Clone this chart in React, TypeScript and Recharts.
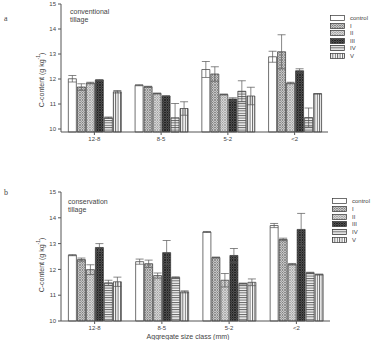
import React from 'react';
import { BarChart, Bar, XAxis, YAxis, ErrorBar } from 'recharts';

const categories = ['12-8', '8-5', '5-2', '<2'];
const treatments = ['control', 'I', 'II', 'III', 'IV', 'V'];
const yTicks = [10, 11, 12, 13, 14, 15];

// conventional tillage (panel a)
const convControl = [12.01, 11.75, 12.38, 12.89];
const convI = [11.68, 11.69, 12.2, 13.09];
const convII = [11.84, 11.42, 11.38, 11.84];
const convIII = [11.96, 11.32, 11.2, 12.33];
const convIV = [10.45, 10.45, 11.51, 10.46];
const convV = [11.49, 10.82, 11.32, 11.41];
const convControlErr = [0.13, 0.02, 0.32, 0.22];
const convIErr = [0.13, 0.02, 0.29, 0.68];
const convIIErr = [0.03, 0.02, 0.02, 0.03];
const convIIIErr = [0.02, 0.01, 0.05, 0.08];
const convIVErr = [0.03, 0.57, 0.42, 0.38];
const convVErr = [0.05, 0.27, 0.35, 0.01];

// conservation tillage (panel b)
const consControl = [12.55, 12.3, 13.45, 13.7];
const consI = [12.38, 12.22, 12.46, 13.16];
const consII = [11.99, 11.76, 11.58, 12.2];
const consIII = [12.85, 12.65, 12.54, 13.55];
const consIV = [11.48, 11.69, 11.45, 11.87];
const consV = [11.52, 11.13, 11.5, 11.8];
const consControlErr = [0.02, 0.1, 0.02, 0.08];
const consIErr = [0.06, 0.14, 0.02, 0.05];
const consIIErr = [0.19, 0.1, 0.26, 0.03];
const consIIIErr = [0.15, 0.47, 0.27, 0.62];
const consIVErr = [0.1, 0.02, 0.02, 0.02];
const consVErr = [0.18, 0.04, 0.13, 0.02];

const build = (vals: number[][], errs: number[][]) =>
  categories.map((cat, i) => {
    const row: any = { cat };
    treatments.forEach((t, k) => {
      row[t] = vals[k][i];
      row[t + '_e'] = errs[k][i];
    });
    return row;
  });

const dataA = build(
  [convControl, convI, convII, convIII, convIV, convV],
  [convControlErr, convIErr, convIIErr, convIIIErr, convIVErr, convVErr]
);
const dataB = build(
  [consControl, consI, consII, consIII, consIV, consV],
  [consControlErr, consIErr, consIIErr, consIIIErr, consIVErr, consVErr]
);

const fills = ['#ffffff', 'url(#pI)', 'url(#pII)', 'url(#pIII)', 'url(#pIV)', 'url(#pV)'];

const Patterns = () => (
  <defs>
    <pattern id="pI" width="2.5" height="2.5" patternUnits="userSpaceOnUse">
      <rect width="2.5" height="2.5" fill="#e8e8e8" />
      <path d="M0,0 L2.5,2.5 M2.5,0 L0,2.5" stroke="#555" strokeWidth="0.6" />
    </pattern>
    <pattern id="pII" width="2.5" height="2.5" patternUnits="userSpaceOnUse">
      <rect width="2.5" height="2.5" fill="#f0f0f0" />
      <path d="M0,0 L2.5,2.5 M2.5,0 L0,2.5" stroke="#777" strokeWidth="0.55" />
    </pattern>
    <pattern id="pIII" width="2.5" height="2.5" patternUnits="userSpaceOnUse">
      <rect width="2.5" height="2.5" fill="#666" />
      <path d="M0,0 L2.5,2.5 M2.5,0 L0,2.5" stroke="#1a1a1a" strokeWidth="0.8" />
    </pattern>
    <pattern id="pIV" width="4" height="2.4" patternUnits="userSpaceOnUse">
      <rect width="4" height="2.4" fill="#f4f4f4" />
      <line x1="0" y1="0.5" x2="4" y2="0.5" stroke="#555" strokeWidth="0.9" />
    </pattern>
    <pattern id="pV" width="2.4" height="4" patternUnits="userSpaceOnUse">
      <rect width="2.4" height="4" fill="#fff" />
      <line x1="0.5" y1="0" x2="0.5" y2="4" stroke="#555" strokeWidth="0.9" />
    </pattern>
  </defs>
);

const tickStyle = { fontSize: 6, fill: '#444' };

function Panel({ data, top, margin, xHeight }: { data: any[]; top: number; margin: any; xHeight: number }) {
  return (
    <div style={{ position: 'absolute', left: 0, top }}>
      <BarChart width={376} height={170} data={data} margin={margin} barCategoryGap="11%" barGap={1}>
        <Patterns />
        <XAxis dataKey="cat" height={xHeight} tick={tickStyle} tickSize={3} axisLine={{ stroke: '#555' }} tickLine={{ stroke: '#555' }} interval={0} />
        <XAxis xAxisId="top" dataKey="cat" orientation="top" height={0} tick={false} tickLine={false} axisLine={{ stroke: '#888' }} />
        <YAxis width={61} domain={[10, 15]} ticks={yTicks} tick={tickStyle} tickSize={3} axisLine={{ stroke: '#555' }} tickLine={{ stroke: '#555' }} />
        <YAxis yAxisId="r" orientation="right" width={0} domain={[0, 1]} tick={false} tickLine={false} axisLine={{ stroke: '#888' }} />
        {treatments.map((t, k) => (
          <Bar key={t} dataKey={t} fill={fills[k]} stroke="#333" strokeWidth={0.7} isAnimationActive={false}>
            <ErrorBar dataKey={t + '_e'} width={4} stroke="#555" strokeWidth={0.7} />
          </Bar>
        ))}
      </BarChart>
    </div>
  );
}

function LegendBox({ left, top, step, textLeft }: { left: number; top: number; step: number; textLeft: number }) {
  return (
    <>
      {treatments.map((t, k) => (
        <React.Fragment key={t}>
          <svg width={15} height={6} style={{ position: 'absolute', left, top: top + k * step - 3 }}>
            <rect x={0.5} y={0.5} width={14} height={5} fill={fills[k]} stroke="#333" strokeWidth={0.7} />
          </svg>
          <div style={{ position: 'absolute', left: textLeft, top: top + k * step - 4, fontSize: 6, lineHeight: '8px', color: '#444' }}>{t}</div>
        </React.Fragment>
      ))}
    </>
  );
}

const txt: React.CSSProperties = { position: 'absolute', fontSize: 7, lineHeight: '8px', color: '#444', whiteSpace: 'nowrap' };

export default function App() {
  return (
    <div style={{ position: 'absolute', left: 0, top: 0, width: 376, height: 340, background: '#fff', overflow: 'hidden', fontFamily: '"Liberation Sans", Arial, sans-serif' }}>
      <Panel data={dataA} top={0} margin={{ top: 4, right: 48, left: 0, bottom: 8 }} xHeight={30} />
      <Panel data={dataB} top={170} margin={{ top: 22, right: 46, left: 0, bottom: 0 }} xHeight={19} />

      <LegendBox left={330} top={18.3} step={7.5} textLeft={350} />
      <LegendBox left={332} top={201} step={7.8} textLeft={352} />

      <div style={{ ...txt, left: 70, top: 8 }}>conventional<br />tillage</div>
      <div style={{ ...txt, left: 68, top: 198 }}>conservation<br />tillage</div>

      <div style={{ ...txt, left: 4, top: 15, fontSize: 8, fontFamily: '"Liberation Serif", serif' }}>a</div>
      <div style={{ ...txt, left: 4, top: 189, fontSize: 8, fontFamily: '"Liberation Serif", serif' }}>b</div>

      <div style={{ ...txt, left: 40, top: 80, transform: 'translate(-50%, -50%) rotate(-90deg)' }}>
        C-content (g kg<sup style={{ fontSize: 5 }}>-1</sup>)
      </div>
      <div style={{ ...txt, left: 40, top: 265, transform: 'translate(-50%, -50%) rotate(-90deg)' }}>
        C-content (g kg<sup style={{ fontSize: 5 }}>-1</sup>)
      </div>

      <div style={{ ...txt, left: 188, top: 337, transform: 'translate(-50%, -50%)' }}>Aggregate size class (mm)</div>
    </div>
  );
}
